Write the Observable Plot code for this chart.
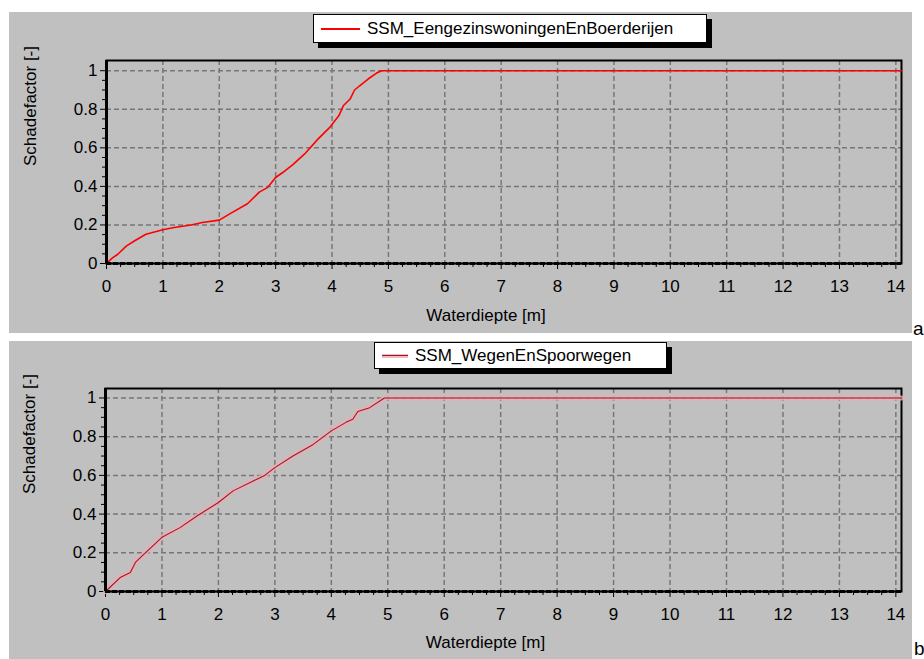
<!DOCTYPE html>
<html><head><meta charset="utf-8">
<script src="https://cdn.jsdelivr.net/npm/d3@7"></script>
<script src="https://cdn.jsdelivr.net/npm/@observablehq/plot@0.6"></script>
<style>
body{margin:0;background:#fff;width:924px;height:659px;position:relative;overflow:hidden;font-family:"Liberation Sans",Arial,sans-serif;color:#000;}
.panel{position:absolute;left:9px;width:903px;background:#c0c0c0;}
.legend{position:absolute;background:#fff;border:1.5px solid #000;box-shadow:5px 5px 0 #000;font-size:17px;box-sizing:border-box;}
.legend .sw{position:absolute;top:50%;}
.legend .tx{position:absolute;top:50%;transform:translateY(-50%);white-space:nowrap;}
.tag{position:absolute;font-size:19px;line-height:19px;}
</style>
</head><body>
<div id="p1" class="panel" style="top:12px;height:321px;"></div>
<div id="p2" class="panel" style="top:341px;height:318px;"></div>
<div class="legend" style="left:313px;top:14px;width:394px;height:29px;">
  <div class="sw" style="left:7px;width:39px;height:2px;margin-top:-1px;background:#ff0000;"></div>
  <div class="tx" id="l1" style="left:53px;"></div>
</div>
<div class="legend" style="left:374px;top:342px;width:293px;height:27px;">
  <div class="sw" style="left:7px;width:26px;height:4px;margin-top:-2px;background:#f2b8bc;"><div style="margin-top:1.5px;height:1px;background:#8e1f2c;"></div></div>
  <div class="tx" id="l2" style="left:40px;"></div>
</div>
<div class="tag" style="left:913px;top:319px;">a</div>
<div class="tag" style="left:914px;top:639px;">b</div>
<script>
// Series names
const seriesA = "SSM_EengezinswoningenEnBoerderijen";
const seriesB = "SSM_WegenEnSpoorwegen";
const xLabel = "Waterdiepte [m]";
const yLabel = "Schadefactor [-]";
// Tick values
const xTicks = [0,1,2,3,4,5,6,7,8,9,10,11,12,13,14];
const yTicks = [0,0.2,0.4,0.6,0.8,1];
// Series A (top): waterdiepte vs schadefactor
const aX = [0,0.1,0.2,0.35,0.5,0.7,1.0,1.2,1.5,1.7,2.0,2.2,2.5,2.71,2.86,3.0,3.125,3.3,3.51,3.75,3.96,4.05,4.12,4.2,4.32,4.4,4.49,4.64,4.79,4.88,14.1];
const aY = [0,0.028,0.048,0.09,0.118,0.152,0.175,0.187,0.2,0.213,0.225,0.26,0.31,0.37,0.395,0.446,0.472,0.512,0.567,0.645,0.706,0.74,0.766,0.818,0.853,0.9,0.922,0.957,0.988,1,1];
// Series B (bottom)
const bX = [0,0.26,0.44,0.53,0.62,1.0,1.32,1.62,2.0,2.26,2.68,2.82,3.0,3.32,3.68,4.0,4.26,4.38,4.47,4.68,4.94,14.1];
const bY = [0,0.072,0.098,0.15,0.176,0.28,0.33,0.39,0.46,0.52,0.58,0.6,0.64,0.70,0.76,0.83,0.874,0.89,0.93,0.95,1,1];

document.getElementById("l1").textContent = seriesA;
document.getElementById("l2").textContent = seriesB;

const xMinor = d3.range(0, 57).map(i => i * 0.25).filter(v => v <= 14.1 && v % 1 !== 0);
const yMinor = d3.range(0, 21).map(i => +(i * 0.05).toFixed(2)).filter(v => Math.round(v*100) % 20 !== 0);
const fmt = d3.format("~g");

function panel(data, opts) {
  const lineMarks = opts.halo
    ? [Plot.line(data, {x: "x", y: "y", stroke: "#f0aab0", strokeWidth: 5, strokeOpacity: 0.8}),
       Plot.line(data, {x: "x", y: "y", stroke: "#8e1f2c", strokeWidth: 1.1})]
    : [Plot.line(data, {x: "x", y: "y", stroke: "#ff0000", strokeWidth: 1.6})];
  return Plot.plot({
    width: 903, height: opts.height,
    marginLeft: opts.ml, marginRight: 11, marginTop: opts.mt, marginBottom: opts.mb,
    x: {domain: [0, 14.1]},
    y: {domain: [0, opts.ytop]},
    style: {background: "transparent", fontFamily: "'Liberation Sans', Arial, sans-serif", fontSize: "17px", color: "#000", overflow: "visible"},
    marks: [
      Plot.gridX(xTicks.slice(1), {stroke: "#777", strokeOpacity: 1, strokeWidth: 1.5, strokeDasharray: "5,3"}),
      Plot.gridY(yTicks.slice(1), {stroke: "#777", strokeOpacity: 1, strokeWidth: 1.5, strokeDasharray: "5,3"}),
      Plot.axisX({ticks: xMinor, tickSize: 4, tickFormat: () => "", label: null, anchor: "bottom"}),
      Plot.axisY({ticks: yMinor, tickSize: 4, tickFormat: () => "", label: null, anchor: "left"}),
      Plot.axisX({ticks: xTicks, tickSize: 6, tickPadding: 10, tickFormat: fmt, label: null, anchor: "bottom", fontSize: 17}),
      Plot.axisY({ticks: yTicks, tickSize: 6, tickPadding: 3, tickFormat: fmt, label: null, anchor: "left", fontSize: 17}),
      Plot.frame({stroke: "#000", strokeWidth: 2}),
      ...lineMarks,
      Plot.ruleY([0], {stroke: "#000", strokeWidth: 1.5}),
      Plot.ruleY([0], {stroke: "#000", strokeWidth: 3, strokeDasharray: "5,2"}),
      Plot.ruleX([0], {stroke: "#000", strokeWidth: 3}),
      Plot.text([xLabel], {text: d => d, frameAnchor: "bottom", dy: opts.xlab, dx: -18, fontSize: 17}),
      Plot.text([yLabel], {text: d => d, frameAnchor: "left", rotate: -90, dx: -76, dy: 4, fontSize: 17})
    ]
  });
}

const dataA = aX.map((x, i) => ({x, y: aY[i]}));
const dataB = bX.map((x, i) => ({x, y: bY[i]}));
document.getElementById("p1").append(panel(dataA, {height: 321, ml: 97, mt: 48, mb: 70, ytop: 1.053, xlab: 57}));
document.getElementById("p2").append(panel(dataB, {height: 318, ml: 96, mt: 47, mb: 68, ytop: 1.049, xlab: 56, halo: true}));
</script>
</body></html>
